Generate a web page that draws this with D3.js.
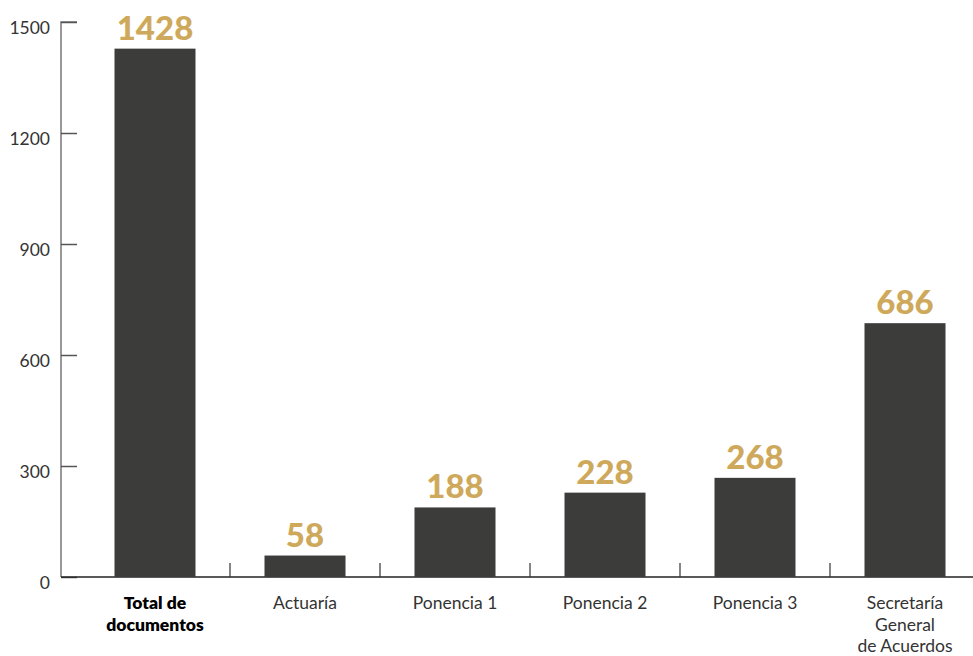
<!DOCTYPE html>
<html>
<head>
<meta charset="utf-8">
<script src="https://cdn.jsdelivr.net/npm/d3@7"></script>
<style>
  html, body { margin: 0; padding: 0; background: #fff; }
  svg { display: block; }
</style>
</head>
<body>
<div id="chart"></div>
<script>
  const categories = ["Total de documentos", "Actuaría", "Ponencia 1", "Ponencia 2", "Ponencia 3", "Secretaría General de Acuerdos"];
  const categoryLines = [["Total de", "documentos"], ["Actuaría"], ["Ponencia 1"], ["Ponencia 2"], ["Ponencia 3"], ["Secretaría", "General", "de Acuerdos"]];
  const values = [1428, 58, 188, 228, 268, 686];
  const yTicks = [0, 300, 600, 900, 1200, 1500];

  const width = 973;
  const height = 656;

  const svg = d3.select("#chart").append("svg").attr("width", width).attr("height", height);

  const x = d3.scaleBand().domain(categories).range([80, 980]).padding(0);
  const y = d3.scaleLinear().domain([0, 1500]).range([577, 22]);
  const barW = x.bandwidth() * 0.54;

  // y axis
  svg.append("g")
    .attr("transform", "translate(61,0)")
    .call(d3.axisRight(y).tickValues(yTicks).tickSize(16).tickFormat(d3.format("d")))
    .call(function (g) {
      g.select(".domain").attr("stroke", "#777").attr("stroke-width", 1.5).attr("d", "M16," + y(1500) + "H0V" + y(0));
      g.selectAll(".tick line").attr("stroke", "#555").attr("stroke-width", 1.5);
      g.selectAll(".tick text")
        .attr("x", -11)
        .attr("dy", "0.65em")
        .attr("text-anchor", "end")
        .attr("fill", "#333")
        .attr("font-family", "Lato, sans-serif")
        .attr("font-size", 17.5);
    });

  // baseline + separators
  svg.append("line")
    .attr("x1", 61).attr("x2", width)
    .attr("y1", y(0)).attr("y2", y(0))
    .attr("stroke", "#222").attr("stroke-width", 1.5);

  svg.append("g")
    .selectAll("line")
    .data(categories.slice(1))
    .enter()
    .append("line")
    .attr("x1", function (d) { return x(d); })
    .attr("x2", function (d) { return x(d); })
    .attr("y1", y(0))
    .attr("y2", y(0) - 14)
    .attr("stroke", "#333")
    .attr("stroke-width", 1.2);

  // bars
  svg.append("g")
    .selectAll("rect")
    .data(values)
    .enter()
    .append("rect")
    .attr("x", function (_, i) { return x(categories[i]) + (x.bandwidth() - barW) / 2; })
    .attr("width", barW)
    .attr("y", function (d) { return y(d); })
    .attr("height", function (d) { return y(0) - y(d); })
    .attr("fill", "#3c3c3b");

  // value labels
  svg.append("g")
    .selectAll("text")
    .data(values)
    .enter()
    .append("text")
    .attr("x", function (_, i) { return x(categories[i]) + x.bandwidth() / 2; })
    .attr("y", function (d) { return y(d) - 9; })
    .attr("text-anchor", "middle")
    .attr("fill", "#cfa95b")
    .attr("font-family", "Lato, sans-serif")
    .attr("font-weight", 900)
    .attr("font-size", 33)
    .text(function (d) { return d; });

  // category labels
  const labels = svg.append("g")
    .selectAll("text")
    .data(categoryLines)
    .enter()
    .append("text")
    .attr("text-anchor", "middle")
    .attr("fill", function (_, i) { return i === 0 ? "#000" : "#333"; })
    .attr("font-family", "Lato, sans-serif")
    .attr("font-weight", function (_, i) { return i === 0 ? 800 : 400; })
    .attr("font-size", 17.5)
    .attr("transform", function (_, i) { return "translate(" + (x(categories[i]) + x.bandwidth() / 2) + ",609)"; });

  labels.selectAll("tspan")
    .data(function (d) { return d; })
    .enter()
    .append("tspan")
    .attr("x", 0)
    .attr("y", function (_, j) { return j * 21.5; })
    .text(function (d) { return d; });
</script>
</body>
</html>
